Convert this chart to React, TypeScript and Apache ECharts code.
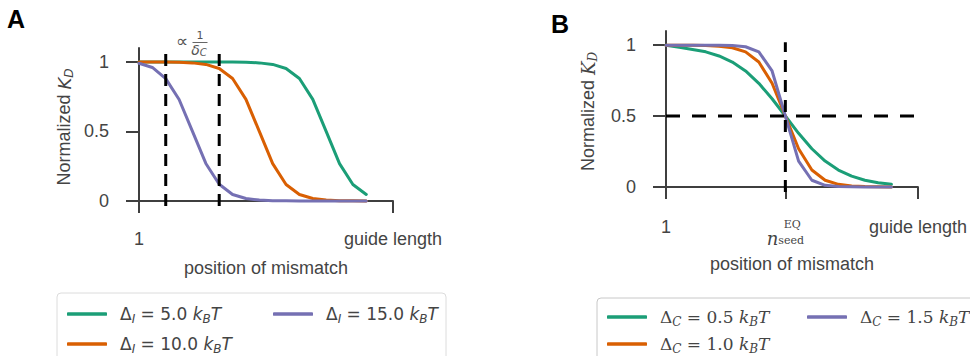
import React, { useEffect, useRef } from "react";
import * as echarts from "echarts";

// Mismatch positions along the guide (1 … 18), axis runs to the guide length (20)
const mismatchPos = [1, 2, 3, 4, 5, 6, 7, 8, 9, 10, 11, 12, 13, 14, 15, 16, 17, 18];

// Panel A: normalized K_D for different interaction energies Δ_I
const kdDeltaI5 = [1.0, 1.0, 1.0, 1.0, 1.0, 1.0, 1.0, 0.999, 0.998, 0.993, 0.982, 0.953, 0.881, 0.731, 0.5, 0.269, 0.119, 0.047];
const kdDeltaI10 = [1.0, 1.0, 0.999, 0.998, 0.993, 0.982, 0.953, 0.881, 0.731, 0.5, 0.269, 0.119, 0.047, 0.018, 0.007, 0.002, 0.001, 0.0];
const kdDeltaI15 = [0.99, 0.96, 0.88, 0.73, 0.5, 0.27, 0.12, 0.047, 0.018, 0.007, 0.002, 0.001, 0.0, 0.0, 0.0, 0.0, 0.0, 0.0];

// Panel B: normalized K_D for different cleavage energies Δ_C
const kdDeltaC05 = [1.0, 0.985, 0.97, 0.953, 0.924, 0.881, 0.818, 0.731, 0.622, 0.5, 0.378, 0.269, 0.182, 0.119, 0.076, 0.047, 0.029, 0.018];
const kdDeltaC10 = [1.0, 1.0, 0.999, 0.998, 0.993, 0.982, 0.953, 0.881, 0.731, 0.5, 0.269, 0.119, 0.047, 0.018, 0.007, 0.002, 0.001, 0.0];
const kdDeltaC15 = [1.0, 1.0, 1.0, 1.0, 0.999, 0.998, 0.989, 0.953, 0.818, 0.5, 0.182, 0.047, 0.011, 0.002, 0.001, 0.0, 0.0, 0.0];

// Reference lines
const seedWindowA = [3, 7];
const nSeedEQ = 10;
const halfKD = 0.5;
const nSeedLineTop = 1.02;

// Axes
const guideLength = 20;
const yMin = -0.036;
const yMax = 1.1;
const yTicks = [0, 0.5, 1];
const xTicksA = [1, guideLength];
const xTicksB = [1, nSeedEQ, guideLength];

const GREEN = "#1b9e77";
const ORANGE = "#d95f02";
const PURPLE = "#7570b3";
const INK = "#444444";
const SPINE = "#3f3f3f";
const SANS = "Liberation Sans, Arial, sans-serif";
const DJV = "DejaVu Sans, sans-serif";
const SERIF = "DejaVu Serif, serif";

const pairs = (ys: number[]) => mismatchPos.map((x, i) => [x, ys[i]]);

const curve = (name: string, ys: number[], color: string, idx: number) => ({
  name,
  type: "line",
  xAxisIndex: idx,
  yAxisIndex: idx,
  data: pairs(ys),
  showSymbol: false,
  symbol: "none",
  clip: false,
  lineStyle: { color, width: 3, cap: "round", join: "round" },
  itemStyle: { color },
  z: 3,
});

const dashed = (data: number[][], idx: number, dash: number[]) => ({
  type: "line",
  xAxisIndex: idx,
  yAxisIndex: idx,
  data,
  showSymbol: false,
  symbol: "none",
  clip: false,
  silent: true,
  lineStyle: { color: "#000", width: 3, type: dash },
  z: 5,
});

const xAxisBase = (idx: number) => ({
  type: "value",
  gridIndex: idx,
  min: 1,
  max: guideLength,
  splitLine: { show: false },
  axisLine: { show: true, lineStyle: { color: SPINE, width: 2 } },
  axisTick: {
    show: true,
    length: 12,
    lineStyle: { color: SPINE, width: 2 },
    customValues: idx === 0 ? xTicksA : xTicksB,
  },
  nameLocation: "middle",
  name: "position of mismatch",
  nameTextStyle: { fontFamily: SANS, fontSize: 18, color: INK },
});

const yAxisBase = (idx: number, nameText: string, gap: number, rich: any) => ({
  type: "value",
  gridIndex: idx,
  min: yMin,
  max: yMax,
  splitLine: { show: false },
  axisLine: { show: true, lineStyle: { color: SPINE, width: 2 } },
  axisTick: { show: true, length: 13, lineStyle: { color: SPINE, width: 2 }, customValues: yTicks },
  axisLabel: {
    customValues: yTicks,
    margin: 30,
    fontFamily: SANS,
    fontSize: 18,
    color: INK,
    formatter: (v: number) => (v === 0 ? "0" : v === 1 ? "1" : "0.5"),
  },
  name: nameText,
  nameLocation: "middle",
  nameGap: gap,
  nameTextStyle: { fontFamily: SANS, fontSize: 18, color: INK, rich },
});

const legendLabels: Record<string, string> = {
  dI5: "Δ{si|I} = 5.0 {it|k}{si|B}{it|T}",
  dI10: "Δ{si|I} = 10.0 {it|k}{si|B}{it|T}",
  dI15: "Δ{si|I} = 15.0 {it|k}{si|B}{it|T}",
  dC05: "Δ{si|C} = 0.5 {it|k}{si|B}{it|T}",
  dC10: "Δ{si|C} = 1.0 {it|k}{si|B}{it|T}",
  dC15: "Δ{si|C} = 1.5 {it|k}{si|B}{it|T}",
};

const legendItem = (name: string, left: number, top: number, font: string) => ({
  data: [name],
  left,
  top,
  icon: "roundRect",
  itemWidth: 40,
  itemHeight: 3.5,
  selectedMode: false,
  formatter: (n: string) => legendLabels[n],
  textStyle: {
    fontFamily: font,
    fontSize: 17,
    color: INK,
    lineHeight: 22,
    padding: [0, 0, 0, 8],
    rich: {
      it: { fontFamily: font, fontSize: 17, fontStyle: "italic", color: INK, lineHeight: 22 },
      si: { fontFamily: font, fontSize: 12, fontStyle: "italic", color: INK, verticalAlign: "bottom", lineHeight: 14 },
    },
  },
});

export default function App() {
  const ref = useRef<HTMLDivElement>(null);

  useEffect(() => {
    if (!ref.current) return;
    const chart = echarts.init(ref.current, null, { renderer: "svg" });

    const option: any = {
      animation: false,
      backgroundColor: "#ffffff",
      grid: [
        { left: 139, top: 48, width: 254, height: 158 },
        { left: 666, top: 31, width: 253, height: 161 },
      ],
      xAxis: [
        {
          ...xAxisBase(0),
          nameGap: 53,
          axisLabel: {
            customValues: xTicksA,
            showMinLabel: true,
            showMaxLabel: true,
            margin: 24,
            fontFamily: SANS,
            fontSize: 18,
            color: INK,
            formatter: (v: number) => (v === 1 ? "1" : "guide length"),
          },
        },
        {
          ...xAxisBase(1),
          nameGap: 63,
          axisLabel: {
            customValues: xTicksB,
            showMinLabel: true,
            showMaxLabel: true,
            margin: 26,
            fontFamily: SANS,
            fontSize: 18,
            color: INK,
            formatter: (v: number) =>
              v === 1 ? "1" : v === nSeedEQ ? "{sup|EQ}\n{n|n}{sub|seed}" : "guide length",
            rich: {
              sup: { fontFamily: SERIF, fontSize: 11, color: INK, padding: [0, 0, 0, 14], lineHeight: 12 },
              n: { fontFamily: SERIF, fontSize: 18, fontStyle: "italic", color: INK, lineHeight: 16 },
              sub: { fontFamily: SERIF, fontSize: 11, color: INK, verticalAlign: "bottom", lineHeight: 10 },
            },
          },
        },
      ],
      yAxis: [
        yAxisBase(0, "Normalized {it|K}{sub|D}", 64, {
          it: { fontFamily: DJV, fontSize: 18, fontStyle: "italic", color: INK, lineHeight: 22 },
          sub: { fontFamily: DJV, fontSize: 12, fontStyle: "italic", color: INK, verticalAlign: "bottom", lineHeight: 14 },
        }),
        yAxisBase(1, "Normalized {it|K}{sub|D}", 67, {
          it: { fontFamily: SERIF, fontSize: 18, fontStyle: "italic", color: INK, lineHeight: 22 },
          sub: { fontFamily: SERIF, fontSize: 12, fontStyle: "italic", color: INK, verticalAlign: "bottom", lineHeight: 14 },
        }),
      ],
      legend: [
        legendItem("dI5", 62, 298, DJV),
        legendItem("dI10", 62, 328, DJV),
        legendItem("dI15", 268, 298, DJV),
        legendItem("dC05", 602, 301, SERIF),
        legendItem("dC10", 602, 328, SERIF),
        legendItem("dC15", 802, 301, SERIF),
      ],
      series: [
        curve("dI5", kdDeltaI5, GREEN, 0),
        curve("dI10", kdDeltaI10, ORANGE, 0),
        curve("dI15", kdDeltaI15, PURPLE, 0),
        ...seedWindowA.map((x) => dashed([[x, yMin], [x, yMax]], 0, [12, 8])),
        curve("dC05", kdDeltaC05, GREEN, 1),
        curve("dC10", kdDeltaC10, ORANGE, 1),
        curve("dC15", kdDeltaC15, PURPLE, 1),
        dashed([[1, halfKD], [guideLength, halfKD]], 1, [14, 12]),
        dashed([[nSeedEQ, yMin], [nSeedEQ, nSeedLineTop]], 1, [12, 8]),
      ],
      graphic: [
        {
          type: "text",
          left: 7,
          top: 6,
          style: { text: "A", fontFamily: SANS, fontWeight: "bold", fontSize: 25, fill: "#000" },
        },
        {
          type: "text",
          left: 551,
          top: 11,
          style: { text: "B", fontFamily: SANS, fontWeight: "bold", fontSize: 25, fill: "#000" },
        },
        {
          type: "rect",
          shape: { x: 57, y: 293, width: 389, height: 90, r: 4 },
          style: { fill: "#fff", stroke: "#dcdcdc", lineWidth: 1 },
          z: -1,
        },
        {
          type: "rect",
          shape: { x: 597, y: 298, width: 390, height: 90, r: 4 },
          style: { fill: "#fff", stroke: "#c8c8c8", lineWidth: 1 },
          z: -1,
        },
        // proportionality note between the dashed lines of panel A
        {
          type: "text",
          x: 182,
          y: 41,
          style: { text: "∝", fontFamily: DJV, fontSize: 17, fill: "#555", align: "center", verticalAlign: "middle" },
        },
        {
          type: "text",
          x: 200,
          y: 35,
          style: { text: "1", fontFamily: DJV, fontSize: 11, fill: "#555", align: "center", verticalAlign: "middle" },
        },
        {
          type: "line",
          shape: { x1: 192.5, y1: 42.5, x2: 207.5, y2: 42.5 },
          style: { stroke: "#555", lineWidth: 0.9 },
        },
        {
          type: "text",
          x: 199,
          y: 50,
          style: {
            text: "{d|δ}{s|C}",
            align: "center",
            verticalAlign: "middle",
            rich: {
              d: { fontFamily: DJV, fontSize: 14, fontStyle: "italic", fill: "#555", lineHeight: 15 },
              s: { fontFamily: DJV, fontSize: 10, fontStyle: "italic", fill: "#555", verticalAlign: "bottom", lineHeight: 11 },
            },
          },
        },
      ],
    };

    chart.setOption(option);
    return () => chart.dispose();
  }, []);

  return <div ref={ref} style={{ width: 970, height: 356, position: "absolute", left: 0, top: 0 }} />;
}
